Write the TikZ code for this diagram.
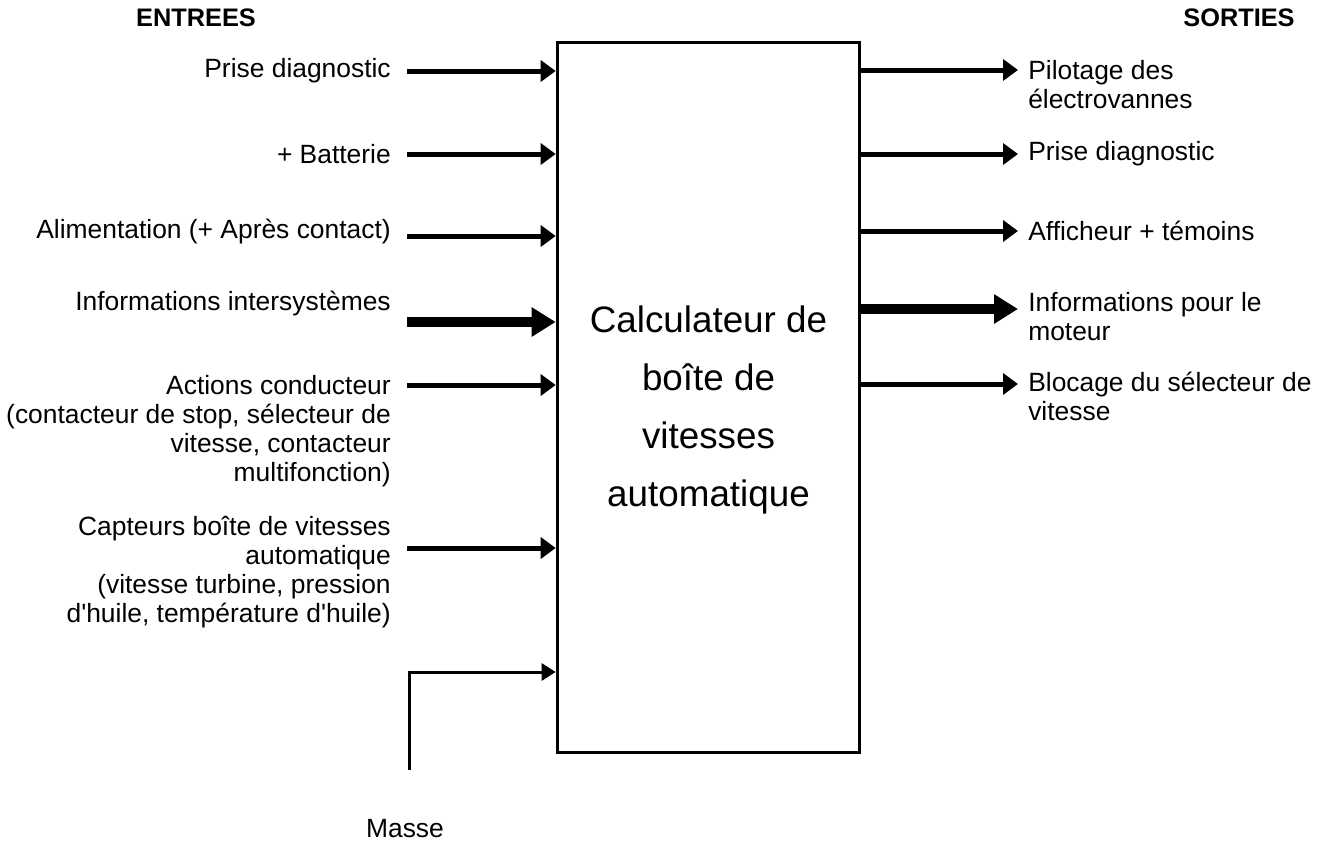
\documentclass[tikz,border=0pt]{standalone}
\usepackage{fontspec}
\setmainfont{Liberation Sans}
\usetikzlibrary{arrows.meta,positioning}

\begin{document}
\begin{tikzpicture}[x=0.75pt, y=-0.75pt,
    lbl/.style={inner sep=0pt, font=\fontsize{19.8}{21.8}\selectfont},
    inlbl/.style={lbl, align=right},
    outlbl/.style={lbl, align=left},
    title/.style={inner sep=0pt, font=\fontsize{19}{22}\selectfont\bfseries},
    inarrow/.style={line width=3.75pt, -{Triangle[length=11.25pt,width=15.75pt]}},
    bigarrow/.style={line width=7.5pt, -{Triangle[length=18pt,width=21pt]}},
    massarrow/.style={line width=2.25pt, -{Triangle[length=10.5pt,width=12.75pt]}}]
    \useasboundingbox (0,0) rectangle (1331,847);

    % Headers
    \node [title] (entrees) at (196,18) {ENTREES};
    \node [title] (sorties) at (1239,18) {SORTIES};

    % Calculator box
    \node [draw, line width=2.25pt, minimum width=227pt, minimum height=532.5pt] (calc) at (708.5,397) {};
    \node [align=center, inner sep=0pt, font=\fontsize{27.6}{43.5}\selectfont] (calctext) at (708.5,410) {Calculateur de\\boîte de\\vitesses\\automatique};

    % Inputs - labels
    \node [inlbl, anchor=east] (in1) at (391,71) {Prise diagnostic};
    \node [inlbl, anchor=east] (in2) at (391,154) {+ Batterie};
    \node [inlbl, anchor=east] (in3) at (391,232) {Alimentation (+ Après contact)};
    \node [inlbl, anchor=east] (in4) at (391,304) {Informations intersystèmes};
    \node [inlbl, anchor=north east] (in5) at (391,375) {Actions conducteur\\(contacteur de stop, sélecteur de\\vitesse, contacteur\\multifonction)};
    \node [inlbl, anchor=north east] (in6) at (391,516) {Capteurs boîte de vitesses\\automatique\\(vitesse turbine, pression\\d\textquotesingle huile, température d\textquotesingle huile)};
    \node [lbl] (masse) at (405,829) {Masse};

    % Inputs - arrow starts
    \coordinate (s1) at (407,71);
    \coordinate (s2) at (407,154);
    \coordinate (s3) at (407,236);
    \coordinate (s4) at (407,322);
    \coordinate (s5) at (407,385);
    \coordinate (s6) at (407,548);
    \coordinate (mfoot) at (409,770);
    \coordinate (mbend) at (409,672);

    \draw [inarrow] (s1) -- (s1 -| calc.west);
    \draw [inarrow] (s2) -- (s2 -| calc.west);
    \draw [inarrow] (s3) -- (s3 -| calc.west);
    \draw [bigarrow] (s4) -- (s4 -| calc.west);
    \draw [inarrow] (s5) -- (s5 -| calc.west);
    \draw [inarrow] (s6) -- (s6 -| calc.west);
    \draw [massarrow] (mfoot) -- (mbend) -- (mbend -| calc.west);

    % Outputs - arrow ends
    \coordinate (e1) at (1018,70);
    \coordinate (e2) at (1018,154);
    \coordinate (e3) at (1018,231);
    \coordinate (e4) at (1018,309);
    \coordinate (e5) at (1018,384);

    \draw [inarrow] (e1 -| calc.east) -- (e1);
    \draw [inarrow] (e2 -| calc.east) -- (e2);
    \draw [inarrow] (e3 -| calc.east) -- (e3);
    \draw [bigarrow] (e4 -| calc.east) -- (e4);
    \draw [inarrow] (e5 -| calc.east) -- (e5);

    % Outputs - labels
    \node [outlbl, anchor=north west] (out1) at (1028,60) {Pilotage des\\électrovannes};
    \node [outlbl, anchor=west] (out2) at (1028,154) {Prise diagnostic};
    \node [outlbl, anchor=west] (out3) at (1028,231) {Afficheur + témoins};
    \node [outlbl, anchor=north west] (out4) at (1028,292) {Informations pour le\\moteur};
    \node [outlbl, anchor=north west] (out5) at (1028,372) {Blocage du sélecteur de\\vitesse};
\end{tikzpicture}
\end{document}
